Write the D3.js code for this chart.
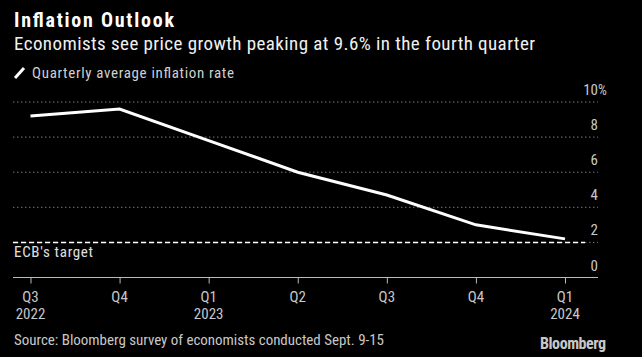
<!DOCTYPE html>
<html><head><meta charset="utf-8">
<script src="https://cdn.jsdelivr.net/npm/d3@7"></script>
<style>
html,body{margin:0;padding:0;background:#000;}
svg{display:block;}
text{font-family:"Liberation Sans Narrow","Roboto Condensed","DejaVu Sans Condensed",sans-serif;}
</style></head>
<body><svg id="c" width="642" height="357"></svg>
<script>
const quarters = ["Q3", "Q4", "Q1", "Q2", "Q3", "Q4", "Q1"];
const years = ["2022", "", "2023", "", "", "", "2024"];
const inflation = [9.2, 9.6, 7.8, 6.0, 4.7, 3.0, 2.2];
const yTicks = [0, 2, 4, 6, 8, 10];
const ecbTarget = 2;

const svg = d3.select("#c");
svg.append("rect").attr("width", 642).attr("height", 357).attr("fill", "#000");

const keys = quarters.map((q, i) => i);
const x = d3.scalePoint().domain(keys).range([30.5, 565]);
const y = d3.scaleLinear().domain([0, 10]).range([277.5, 102]);
const left = 13, right = 598;

// titles
svg.append("text").attr("x", 14).attr("y", 27).attr("fill", "#fff")
  .attr("font-size", 20).attr("font-weight", "bold").attr("textLength", 160)
  .text("Inflation Outlook");
svg.append("text").attr("x", 14).attr("y", 50).attr("fill", "#f0f0f0")
  .attr("font-size", 19).attr("textLength", 521)
  .text("Economists see price growth peaking at 9.6% in the fourth quarter");
// legend
svg.append("line").attr("x1", 15).attr("y1", 78).attr("x2", 24).attr("y2", 68)
  .attr("stroke", "#fff").attr("stroke-width", 3);
svg.append("text").attr("x", 32).attr("y", 78).attr("fill", "#d0d0d0")
  .attr("font-size", 15).attr("textLength", 202).text("Quarterly average inflation rate");

// gridlines
svg.append("g").selectAll("line").data(yTicks.filter(d => d > 0)).join("line")
  .attr("x1", left).attr("x2", right)
  .attr("y1", d => y(d)).attr("y2", d => y(d))
  .attr("stroke", "#777").attr("stroke-width", 1).attr("stroke-dasharray", "1.5,2.5");

// y tick labels
svg.append("g").selectAll("text").data(yTicks).join("text")
  .attr("x", right).attr("y", d => y(d) - 7)
  .attr("text-anchor", "end").attr("fill", "#c8c8c8").attr("font-size", 15)
  .text(d => d);
svg.append("text").attr("x", right).attr("y", y(10) - 7).attr("fill", "#c8c8c8")
  .attr("font-size", 14).text("%");

// ECB target
svg.append("line").attr("x1", left).attr("x2", 585)
  .attr("y1", y(ecbTarget)).attr("y2", y(ecbTarget))
  .attr("stroke", "#fff").attr("stroke-width", 1.5).attr("stroke-dasharray", "5,3");
svg.append("text").attr("x", 14).attr("y", y(ecbTarget) + 15).attr("fill", "#e0e0e0")
  .attr("font-size", 15).attr("textLength", 79).text("ECB's target");

// x axis
const xAxis = d3.axisBottom(x).tickSize(6).tickFormat("");
const ga = svg.append("g").attr("transform", `translate(0,${y(0)})`).call(xAxis);
ga.select(".domain").remove();
ga.selectAll(".tick line").attr("stroke", "#bbb");
ga.append("line").attr("x1", left).attr("x2", right).attr("stroke", "#bbb").attr("stroke-width", 1);
svg.append("g").selectAll("text").data(keys).join("text")
  .attr("x", d => x(d)).attr("y", 302).attr("text-anchor", "middle")
  .attr("fill", "#c8c8c8").attr("font-size", 15).text(d => quarters[d]);
svg.append("g").selectAll("text").data(keys.filter(d => years[d])).join("text")
  .attr("x", d => x(d)).attr("y", 319).attr("text-anchor", "middle")
  .attr("fill", "#c8c8c8").attr("font-size", 15).text(d => years[d]);

// line
const line = d3.line().x((d, i) => x(i)).y(d => y(d));
svg.append("path").datum(inflation).attr("d", line)
  .attr("fill", "none").attr("stroke", "#fff").attr("stroke-width", 3)
  .attr("stroke-linejoin", "miter");

// source
svg.append("text").attr("x", 14).attr("y", 345).attr("fill", "#c8c8c8")
  .attr("font-size", 15).attr("textLength", 370)
  .text("Source: Bloomberg survey of economists conducted Sept. 9-15");
svg.append("text").attr("x", 606).attr("y", 349).attr("text-anchor", "end").attr("fill", "#c8c8c8")
  .attr("font-size", 16).attr("font-weight", "bold").attr("font-family", "Liberation Sans, Arial, sans-serif")
  .attr("textLength", 66).text("Bloomberg");
</script></body></html>
